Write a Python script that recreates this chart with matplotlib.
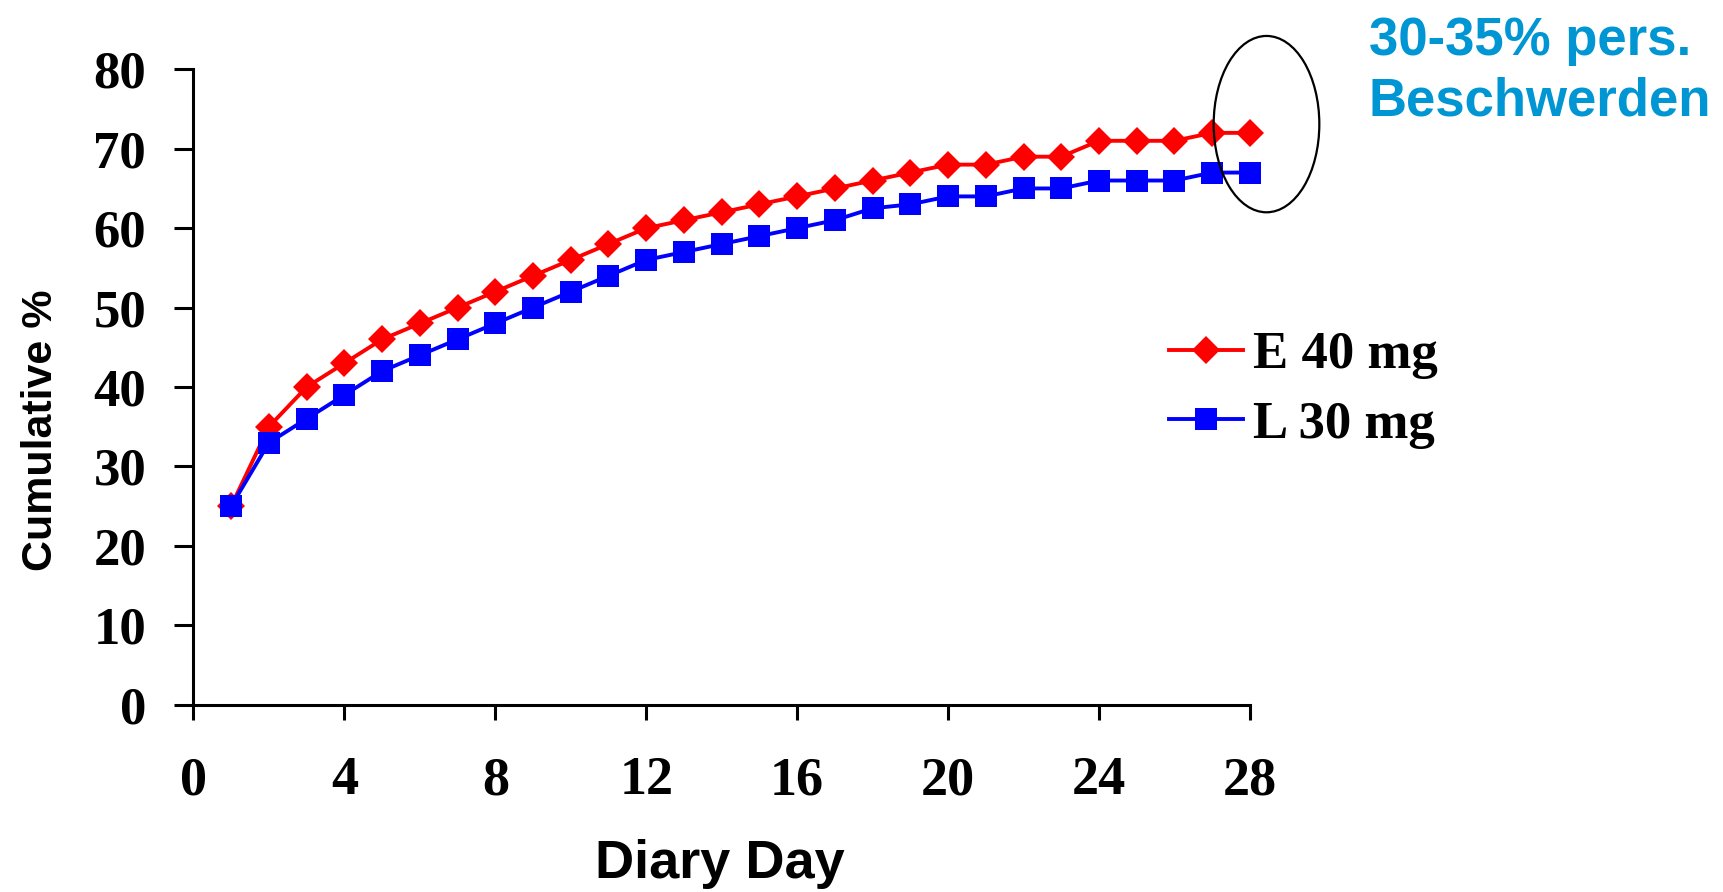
import matplotlib.pyplot as plt
import numpy as np
from matplotlib.patches import Ellipse

days = np.arange(1, 29)
e_40mg = [25, 35, 40, 43, 46, 48, 50, 52, 54, 56, 58, 60, 61, 62, 63, 64,
          65, 66, 67, 68, 68, 69, 69, 71, 71, 71, 72, 72]
l_30mg = [25, 33, 36, 39, 42, 44, 46, 48, 50, 52, 54, 56, 57, 58, 59, 60,
          61, 62.5, 63, 64, 64, 65, 65, 66, 66, 66, 67, 67]
series_labels = ["E 40 mg", "L 30 mg"]
x_ticks = [0, 4, 8, 12, 16, 20, 24, 28]
y_ticks = [0, 10, 20, 30, 40, 50, 60, 70, 80]
note = "30-35% pers.\nBeschwerden"

serif = ['Liberation Serif', 'DejaVu Serif']
sans = ['Liberation Sans', 'DejaVu Sans']

fig = plt.figure(figsize=(17.24, 8.92), dpi=100)
ax = fig.add_axes([0.1122, 0.2099, 0.725 - 0.1122, 0.9223 - 0.2099])

ax.plot(days, e_40mg, color='#ff0000', lw=2.8, marker='D', ms=14,
        mew=0, label=series_labels[0], clip_on=False, zorder=3)
ax.plot(days, l_30mg, color='#0000ff', lw=2.8, marker='s', ms=16,
        mew=0, label=series_labels[1], clip_on=False, zorder=4)

ax.set_xlim(0, 28)
ax.set_ylim(0, 80)
ax.set_xticks(x_ticks)
ax.set_yticks(y_ticks)
for s in ['top', 'right']:
    ax.spines[s].set_visible(False)
for s in ['left', 'bottom']:
    ax.spines[s].set_linewidth(2.2)
ax.tick_params(axis='y', direction='out', length=14, width=2.2, pad=20)
ax.tick_params(axis='x', direction='out', length=11, width=2.2, pad=26)
for t in ax.get_yticklabels():
    t.set_fontfamily(serif)
    t.set_fontweight('bold')
    t.set_fontsize(38)
for t in ax.get_xticklabels():
    t.set_fontfamily(serif)
    t.set_fontweight('bold')
    t.set_fontsize(39)

fig.text(40.7 / 1724, 1 - 430 / 892, "Cumulative %", rotation=90,
         ha='center', va='center', fontsize=31, fontweight='bold', family=sans)
fig.text(0.5 * (595 + 845) / 1724, 1 - 864 / 892, "Diary Day",
         ha='center', va='center', fontsize=39, fontweight='bold', family=sans)

fig.text(1369 / 1724, 1 - 16 / 892, note, ha='left', va='top',
         fontsize=38, fontweight='bold', family=sans, color='#0095d3',
         linespacing=1.28)

ell = Ellipse((28.44, 73.1), 2.8, 22.2, fill=False, edgecolor='black',
              lw=1.6, clip_on=False, zorder=5)
ax.add_patch(ell)

leg = ax.legend(loc='center left', bbox_to_anchor=(1169 / 1724, 1 - 390 / 892),
                bbox_transform=fig.transFigure, frameon=False, borderpad=0,
                borderaxespad=0, handlelength=1.4, handletextpad=0.2,
                labelspacing=0.4, prop={'family': serif, 'weight': 'bold', 'size': 38})

fig.savefig('out.png', dpi=100)
